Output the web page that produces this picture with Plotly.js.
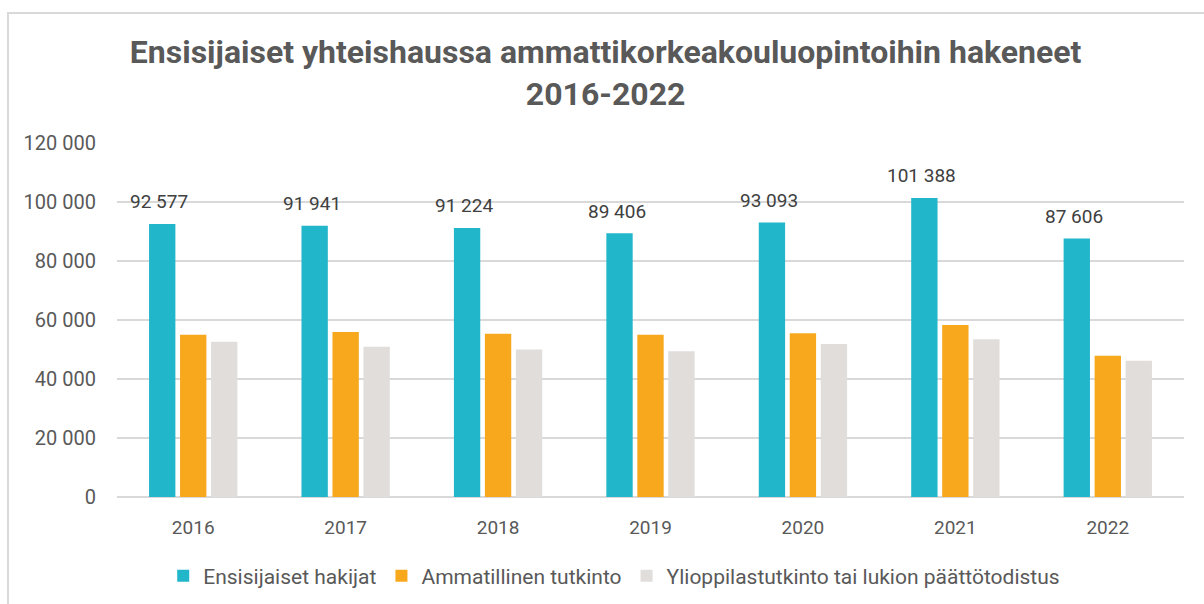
<!DOCTYPE html>
<html>
<head>
<meta charset="utf-8">
<script src="https://cdn.plot.ly/plotly-3.0.1.min.js"></script>
<style>
  html, body { margin: 0; padding: 0; background: #ffffff; }
  #chart { width: 1204px; height: 604px; }
  #frame { position: absolute; left: 7px; top: 12px; width: 1197px; height: 592px;
           border-top: 2px solid #d9d9d9; border-left: 2px solid #d9d9d9; pointer-events: none; box-sizing: border-box; }
</style>
</head>
<body>
<div id="chart"></div>
<div id="frame"></div>
<script>
const years = ['2016', '2017', '2018', '2019', '2020', '2021', '2022'];
const hakijat = [92577, 91941, 91224, 89406, 93093, 101388, 87606];
const ammatillinen = [55000, 55900, 55300, 55000, 55500, 58300, 47900];
const ylioppilas = [52600, 50900, 50000, 49400, 51900, 53500, 46200];
const seriesNames = ['Ensisijaiset hakijat', 'Ammatillinen tutkinto', 'Ylioppilastutkinto tai lukion päättötodistus'];
const titleText = 'Ensisijaiset yhteishaussa ammattikorkeakouluopintoihin hakeneet<br>2016-2022';

function fmt(v) {
  return String(v).replace(/\B(?=(\d{3})+(?!\d))/g, ' ');
}

const font = 'Roboto, "Noto Sans", sans-serif';

const traces = [
  { type: 'bar', name: seriesNames[0], x: years, y: hakijat, marker: { color: '#21b6ca' }, hoverinfo: 'skip' },
  { type: 'bar', name: seriesNames[1], x: years, y: ammatillinen, marker: { color: '#f7a81c' }, hoverinfo: 'skip' },
  { type: 'bar', name: seriesNames[2], x: years, y: ylioppilas, marker: { color: '#e1dddb' }, hoverinfo: 'skip' }
];

// category index i positions the label on the year's category
const annotations = years.map((yr, i) => ({
  x: i, y: hakijat[i], xref: 'x', yref: 'y',
  text: fmt(hakijat[i]), showarrow: false,
  xshift: -34, yshift: 22, yanchor: 'middle', xanchor: 'center',
  font: { family: font, size: 19, color: '#404040' }
}));

const layout = {
  width: 1204, height: 604,
  paper_bgcolor: '#ffffff', plot_bgcolor: '#ffffff',
  margin: { l: 117, r: 20, t: 143, b: 107 },
  separators: ', ',
  title: {
    text: titleText,
    font: { family: font, size: 32, weight: 'bold', color: '#595959' },
    x: 0.503, xref: 'container', xanchor: 'center',
    y: 1 - 63 / 604, yref: 'container', yanchor: 'middle'
  },
  barmode: 'group', bargap: 0.39, bargroupgap: 0.15,
  xaxis: {
    type: 'category', range: [-0.5, years.length - 0.5], autorange: false,
    showgrid: false, showline: false, zeroline: false,
    ticks: '', ticklabelstandoff: 17,
    tickfont: { family: font, size: 19, color: '#595959' }
  },
  yaxis: {
    range: [0, 120000], autorange: false, dtick: 20000, tick0: 0,
    tickformat: ',d',
    showgrid: true, gridcolor: '#d9d9d9', gridwidth: 1.5,
    zeroline: true, zerolinecolor: '#d9d9d9', zerolinewidth: 2,
    showline: false, ticks: '', ticklabelstandoff: 20,
    tickfont: { family: font, size: 20, color: '#595959' }
  },
  showlegend: true,
  legend: {
    orientation: 'h',
    x: 0.466, xanchor: 'center',
    y: 28 / 604, yref: 'container', yanchor: 'middle',
    font: { family: font, size: 21, color: '#595959' },
    itemwidth: 30, traceorder: 'normal'
  },
  annotations: annotations
};

Plotly.newPlot('chart', traces, layout, { staticPlot: true, displayModeBar: false });
</script>
</body>
</html>
